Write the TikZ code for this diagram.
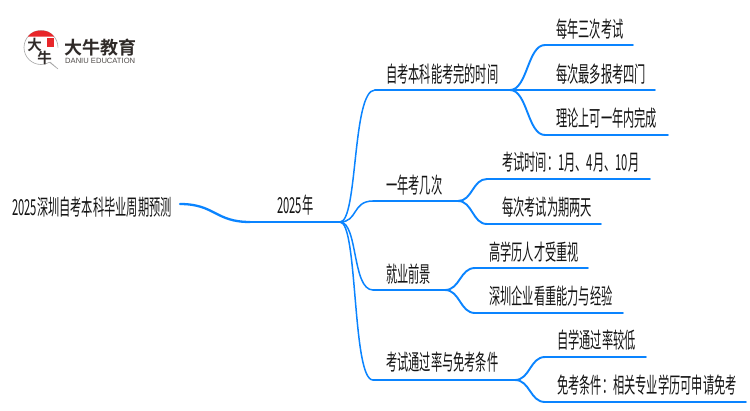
\documentclass[tikz,border=0pt]{standalone}
\usepackage{fontspec}
\setmainfont{Liberation Sans}
\newfontfamily\cjk[FakeStretch=0.51]{Noto Sans CJK SC}
\newfontfamily\logocjk{Noto Sans CJK SC Bold}
\definecolor{linkblue}{HTML}{0A84FF}
\definecolor{logored}{HTML}{E8262A}
\definecolor{logoink}{HTML}{2F2A28}
\tikzset{
  lbl/.style={anchor=west,inner sep=0pt,font=\cjk\fontsize{22}{24}\selectfont,text=black!92},
  link/.style={draw=linkblue,line width=1.9pt,line cap=round},
  trunk/.style={draw=linkblue,line width=2.3pt,line cap=round},
  thin link/.style={draw=linkblue,line width=1.5pt},
}
\newcommand{\curve}[3][link]{%
  \path (#2) -- (#3) coordinate[pos=.5] (mm);
  \draw[#1] (#2) .. controls (mm |- #2) and (mm |- #3) .. (#3);}
\begin{document}
\begin{tikzpicture}[x=1pt,y=-1pt]
\useasboundingbox (0,0) rectangle (750,410);
\fill[white] (0,0) rectangle (750,410);
% logo
\begin{scope}
  \draw[black!35,line width=.6pt] (58,47.5) arc[start angle=0,end angle=-300,radius=17] -- (58,69) -- (50,62);
  \fill[logored] (28,36.5) .. controls (31,32) and (36,30.5) .. (41,30.5) .. controls (46,30.5) and (51,32) .. (54,36.5) -- cycle;
  \fill[logored] (47,38) rectangle (54,47);
  \node[inner sep=0pt,font=\logocjk\fontsize{14.5}{15}\selectfont,text=logoink] (logoa) at (34.5,45) {大};
  \node[inner sep=0pt,font=\logocjk\fontsize{14.5}{15}\selectfont,text=logoink] (logob) at (44.5,58) {牛};
  \node[anchor=west,inner sep=0pt,font=\logocjk\fontsize{18}{18}\selectfont,text=logoink] (logoc) at (64,47.5) {大牛教育};
  \node[anchor=west,inner sep=0pt,font=\fontsize{7.6}{8}\selectfont,text=logoink!85] (logod) at (65,60.5) {DANIU EDUCATION};
\end{scope}
% anchors of the lines
\coordinate (start) at (180,204);
\coordinate (rootmid) at (250,222);
\coordinate (hub) at (340,222);
\coordinate (b1a) at (375,90);  \coordinate (b1) at (510,90);
\coordinate (b2a) at (373,201); \coordinate (b2) at (458,201);
\coordinate (b3a) at (373,290); \coordinate (b3) at (445,290);
\coordinate (b4a) at (373,380); \coordinate (b4) at (515,380);
\coordinate (l1a) at (545,45);  \coordinate (l1b) at (633,45);
\coordinate (l2b) at (655,90);
\coordinate (l3a) at (545,135); \coordinate (l3b) at (668,135);
\coordinate (l4a) at (487,179); \coordinate (l4b) at (650,179);
\coordinate (l5a) at (487,224); \coordinate (l5b) at (601,224);
\coordinate (l6a) at (475,268); \coordinate (l6b) at (588,268);
\coordinate (l7a) at (475,313); \coordinate (l7b) at (623,313);
\coordinate (l8a) at (545,357); \coordinate (l8b) at (646,357);
\coordinate (l9a) at (545,402); \coordinate (l9b) at (746,402);
% labels
\node[lbl] (root) at (12,207) {2025深圳自考本科毕业周期预测};
\node[lbl] (year) at (277,205) {2025年};
\node[lbl] (t1) at (386,74) {自考本科能考完的时间};
\node[lbl] (t2) at (386,185) {一年考几次};
\node[lbl] (t3) at (386,274) {就业前景};
\node[lbl] (t4) at (386,362) {考试通过率与免考条件};
\node[lbl] (n1) at (556,29) {每年三次考试};
\node[lbl] (n2) at (556,74) {每次最多报考四门};
\node[lbl] (n3) at (556,118) {理论上可一年内完成};
\node[lbl] (n4) at (502,162) {考试时间：1月、4月、10月};
\node[lbl] (n5) at (502,207) {每次考试为期两天};
\node[lbl] (n6) at (489,252) {高学历人才受重视};
\node[lbl] (n7) at (489,296) {深圳企业看重能力与经验};
\node[lbl] (n8) at (557,340) {自学通过率较低};
\node[lbl] (n9) at (557,385) {免考条件：相关专业学历可申请免考};
% connectors
\curve[trunk]{start}{rootmid}
\draw[trunk] (rootmid) -- (hub);
\foreach \a/\e in {b1a/b1,b2a/b2,b3a/b3,b4a/b4}{
  \draw[thin link] (hub) .. controls (hub -| 358,0) and (\a -| 352,0) .. (\a);
  \draw[link] (\a) -- (\e);
}
\curve{b1}{l1a}\draw[link] (l1a) -- (l1b);
\draw[link] (b1) -- (l2b);
\curve{b1}{l3a}\draw[link] (l3a) -- (l3b);
\curve{b2}{l4a}\draw[link] (l4a) -- (l4b);
\curve{b2}{l5a}\draw[link] (l5a) -- (l5b);
\curve{b3}{l6a}\draw[link] (l6a) -- (l6b);
\curve{b3}{l7a}\draw[link] (l7a) -- (l7b);
\curve{b4}{l8a}\draw[link] (l8a) -- (l8b);
\curve{b4}{l9a}\draw[link] (l9a) -- (l9b);
\end{tikzpicture}
\end{document}
